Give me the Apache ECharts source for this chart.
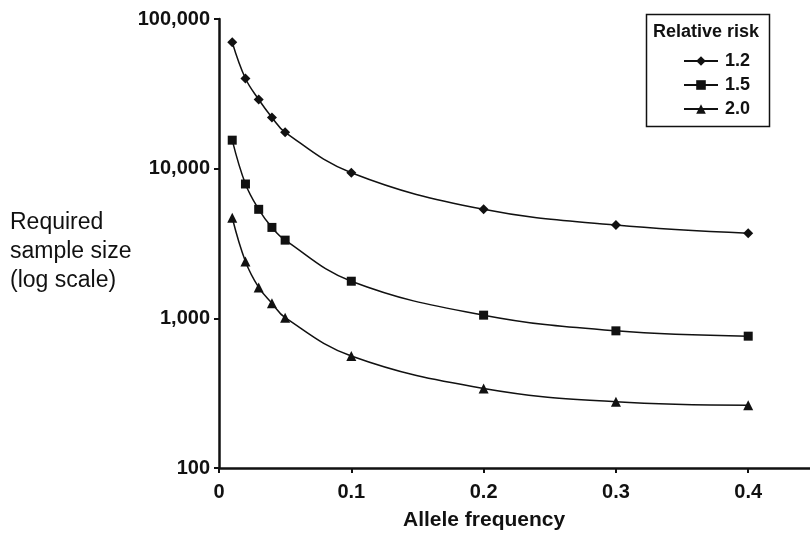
<!DOCTYPE html>
<html>
<head>
<meta charset="utf-8">
<script src="https://cdn.jsdelivr.net/npm/echarts@6/dist/echarts.min.js"></script>
<style>
  html, body { margin: 0; padding: 0; background: #fff; }
  #chart { width: 810px; height: 533px; }
</style>
</head>
<body>
<div id="chart"></div>
<script>
// Allele frequencies (x) and required sample sizes per relative risk
const alleleFreq = [0.01, 0.02, 0.03, 0.04, 0.05, 0.1, 0.2, 0.3, 0.4];
const rr12 = [70000, 40000, 29000, 22000, 17500, 9400, 5350, 4200, 3700];
const rr15 = [15500, 7900, 5350, 4050, 3330, 1770, 1050, 825, 760];
const rr20 = [4700, 2400, 1610, 1260, 1010, 560, 340, 277, 263];
const seriesNames = ['1.2', '1.5', '2.0'];
const yTicks = [100, 1000, 10000, 100000];

const ink = '#111';
const font = '"Liberation Sans", Arial, Helvetica, sans-serif';

function pairs(ys) { return alleleFreq.map((x, i) => [x, ys[i]]); }

function lineSeries(name, ys, symbol, size) {
  return {
    name: name,
    type: 'line',
    data: pairs(ys),
    smooth: 0.4,
    symbol: symbol,
    symbolSize: size,
    showAllSymbol: true,
    lineStyle: { color: ink, width: 1.5 },
    itemStyle: { color: ink, borderWidth: 0 },
    emphasis: { disabled: true },
    animation: false
  };
}

const chart = echarts.init(document.getElementById('chart'), null, { renderer: 'canvas' });
chart.setOption({
  animation: false,
  backgroundColor: '#fff',
  grid: { left: 219, right: 0, top: 19, bottom: 65, containLabel: false },
  xAxis: {
    type: 'value',
    min: 0,
    max: 0.4467,
    interval: 0.1,
    axisLine: { lineStyle: { color: ink, width: 2.5 } },
    axisTick: { show: true, length: 5, inside: false, lineStyle: { color: ink, width: 2 } },
    splitLine: { show: false },
    axisLabel: {
      showMaxLabel: false,
      margin: 14,
      color: ink,
      fontFamily: font,
      fontWeight: 'bold',
      fontSize: 20,
      formatter: function (v) {
        const r = Math.round(v * 10) / 10;
        if (Math.abs(r - v) > 1e-6) return '';
        return r === 0 ? '0' : r.toFixed(1);
      }
    }
  },
  yAxis: {
    type: 'log',
    logBase: 10,
    min: yTicks[0],
    max: yTicks[yTicks.length - 1],
    axisLine: { show: true, lineStyle: { color: ink, width: 2.5 } },
    axisTick: { show: true, length: 5, lineStyle: { color: ink, width: 2 } },
    minorTick: { show: false },
    splitLine: { show: false },
    axisLabel: {
      margin: 9,
      color: ink,
      fontFamily: font,
      fontWeight: 'bold',
      fontSize: 20,
      formatter: function (v) { return Math.round(v).toLocaleString('en-US'); }
    }
  },
  legend: {
    orient: 'vertical',
    left: 683,
    top: 52,
    padding: 0,
    itemGap: 6,
    itemWidth: 34,
    itemHeight: 12,
    selectedMode: false,
    data: seriesNames,
    textStyle: {
      color: ink,
      fontFamily: font,
      fontWeight: 'bold',
      fontSize: 18,
      lineHeight: 18,
      padding: [0, 0, 0, 2]
    }
  },
  graphic: [
    {
      type: 'rect',
      left: 644, top: 12,
      shape: { width: 123, height: 112 },
      style: { fill: 'none', stroke: ink, lineWidth: 1.5 },
      z: 10
    },
    {
      type: 'text',
      left: 653, top: 23,
      style: {
        text: 'Relative risk',
        fill: ink,
        font: 'bold 18px ' + font
      },
      z: 10
    },
    {
      type: 'text',
      left: 10, top: 208,
      style: {
        text: 'Required\nsample size\n(log scale)',
        fill: ink,
        font: '23px ' + font,
        lineHeight: 29
      }
    },
    {
      type: 'text',
      left: 403, top: 510,
      style: {
        text: 'Allele frequency',
        fill: ink,
        font: 'bold 21px ' + font
      }
    }
  ],
  series: [
    lineSeries(seriesNames[0], rr12, 'diamond', 10),
    lineSeries(seriesNames[1], rr15, 'rect', 9),
    lineSeries(seriesNames[2], rr20, 'triangle', 10)
  ]
});
</script>
</body>
</html>
